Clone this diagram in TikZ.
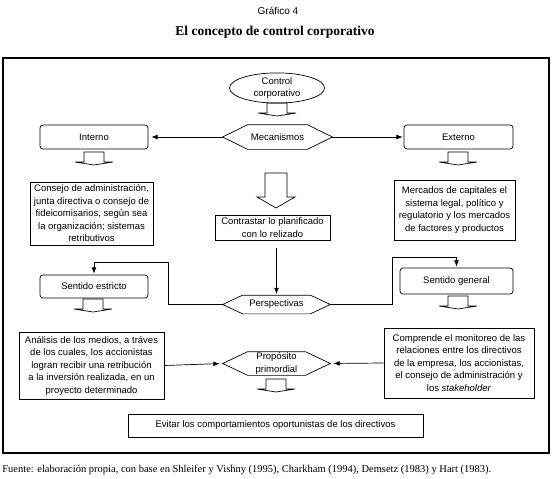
\documentclass[tikz,border=0pt]{standalone}
\usepackage{fontspec}
\setmainfont{Liberation Serif}
\setsansfont{Liberation Sans}
\usetikzlibrary{arrows.meta,shapes.geometric}

\begin{document}
\begin{tikzpicture}[x=1pt,y=-1pt,line width=0.7pt,>={Latex[length=2.2mm,width=1.7mm]},
  font=\sffamily\fontsize{9.5}{12.5}\selectfont,
  caja/.style={draw,align=center,inner sep=0pt},
  cajar/.style={caja,rounded corners=3pt},
  hexa/.style={align=center,inner sep=0pt},
  flechita/.pic={\draw (-10,0) -- (-10,10) -- (-19,10) -- (0,13) -- (19,10) -- (10,10) -- (10,0) -- cycle;},
  flechona/.pic={\draw (-11,0) -- (-11,24) -- (-19,24) -- (0,35) -- (19,24) -- (11,24) -- (11,0) -- cycle;}]
  \useasboundingbox (0,0) rectangle (555,479);
  % titulo
  \node[font=\sffamily\fontsize{10}{12}\selectfont] (graf) at (278,11) {Gráfico 4};
  \node[font=\rmfamily\bfseries\fontsize{13.5}{15}\selectfont] (titulo) at (275,32) {El concepto de control corporativo};
  % marco
  \draw[line width=1.6pt] (3,58) rectangle (549,453);
  % nivel superior
  \node[draw,ellipse,inner sep=0pt,minimum width=95pt,minimum height=30pt,align=center] (ctrl) at (277,88) {Control\\corporativo};
  \node[hexa,minimum width=109pt,minimum height=24pt] (mec) at (277.5,137) {Mecanismos};
  \node[cajar,minimum width=108pt,minimum height=24pt] (interno) at (94,137) {Interno};
  \node[cajar,minimum width=109pt,minimum height=24pt] (externo) at (458.5,137) {Externo};
  % mecanismos
  \node[caja,minimum width=123pt,minimum height=63pt] (consejo) at (91.5,213.5) {Consejo de administración,\\junta directiva o consejo de\\fideicomisarios, según sea\\la organización; sistemas\\retributivos};
  \node[caja,minimum width=115pt,minimum height=25pt] (contr) at (272.5,227.5) {Contrastar lo planificado\\con lo relizado};
  \node[caja,minimum width=121pt,minimum height=60pt] (mercados) at (454.5,210) {Mercados de capitales el\\sistema legal, político y\\regulatorio y los mercados\\de factores y productos};
  % perspectivas
  \node[hexa,minimum width=107pt,minimum height=18pt] (persp) at (276.5,304.5) {Perspectivas};
  \node[cajar,minimum width=108pt,minimum height=23pt] (estricto) at (94,286.5) {Sentido estricto};
  \node[cajar,minimum width=113pt,minimum height=26pt] (general) at (456.5,281) {Sentido general};
  % proposito
  \node[caja,minimum width=145pt,minimum height=67pt] (analisis) at (91.5,365.5) {Análisis de los medios, a tráves\\de los cuales, los accionistas\\logran recibir una retribución\\a la inversión realizada, en un\\proyecto determinado};
  \node[hexa,minimum width=107pt,minimum height=23pt] (prop) at (276.5,363.5) {Propósito\\primordial};
  \node[caja,minimum width=150pt,minimum height=70pt] (comprende) at (459,363) {Comprende el monitoreo de las\\relaciones entre los directivos\\de la empresa, los accionistas,\\el consejo de administración y\\los \textit{stakeholder}};
  \node[caja,minimum width=295pt,minimum height=23pt] (evitar) at (275.5,425.5) {Evitar los comportamientos oportunistas de los directivos};
  % hexagonos
  \foreach \h/\c in {mec/25pt,persp/20pt,prop/25pt}
    \draw (\h.west) -- ([xshift=\c]\h.north west) -- ([xshift=-\c]\h.north east) -- (\h.east)
      -- ([xshift=-\c]\h.south east) -- ([xshift=\c]\h.south west) -- cycle;
  % flechas huecas
  \pic at (277,103) {flechita};
  \pic at (94,152) {flechita};
  \pic at (458,152) {flechita};
  \pic at (276,173) {flechona};
  \pic at (93,299) {flechita};
  \pic at (458,296) {flechita};
  \pic at (276,379) {flechita};
  % conectores
  \coordinate (esqizq) at (168,262);
  \coordinate (esqder) at (392,257);
  \draw[->,shorten >=3pt] (mec.west) -- (interno.east);
  \draw[->,shorten >=1pt] (mec.east) -- (externo.west);
  \draw[->,shorten <=8pt,shorten >=1pt] (persp.north |- contr.south) -- (persp.north);
  \draw[->,shorten >=1pt] (persp.west) -| (esqizq) -| (estricto.north);
  \draw[->,shorten >=1pt] (persp.east) -| (esqder) -| (general.north);
  \draw[->,shorten >=3pt] (analisis.east) -- (prop.west);
  \draw[->,shorten >=3pt] (comprende.west) -- (prop.east);
  % fuente
  \node[font=\rmfamily\fontsize{10.5}{12}\selectfont,anchor=west,inner sep=0pt] (fuente) at (2,470) {Fuente: elaboración propia, con base en Shleifer y Vishny (1995), Charkham (1994), Demsetz (1983) y Hart (1983).};
\end{tikzpicture}
\end{document}
